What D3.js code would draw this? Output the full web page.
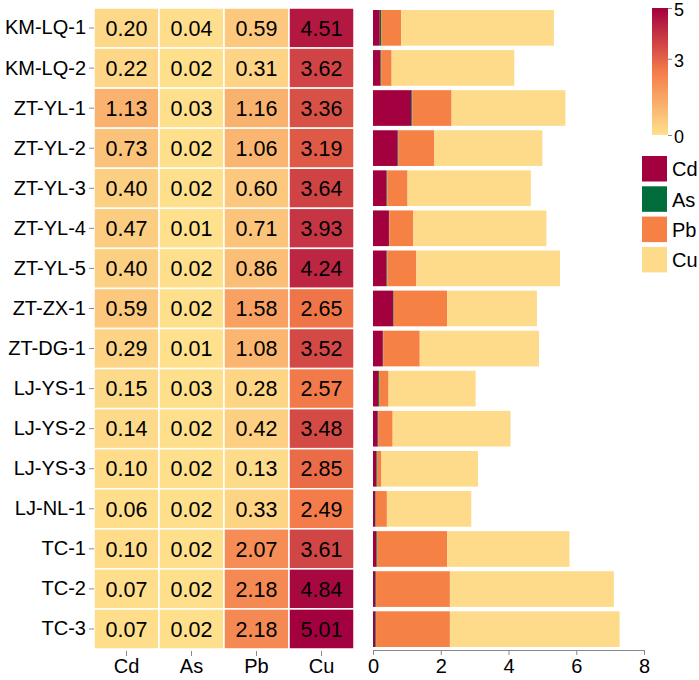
<!DOCTYPE html>
<html lang="en">
<head>
  <meta charset="UTF-8">
  <title>Heavy metal heatmap and stacked bars</title>
  <script src="https://d3js.org/d3.v7.min.js"></script>
  <style>
    body { margin: 0; background: #fff; }
    svg text { font-family: "Liberation Sans", Arial, sans-serif; }
  </style>
</head>
<body>
<svg id="chart" width="699" height="680"></svg>
<script>
const samples = ["KM-LQ-1", "KM-LQ-2", "ZT-YL-1", "ZT-YL-2", "ZT-YL-3", "ZT-YL-4", "ZT-YL-5", "ZT-ZX-1",
                 "ZT-DG-1", "LJ-YS-1", "LJ-YS-2", "LJ-YS-3", "LJ-NL-1", "TC-1", "TC-2", "TC-3"];
const metals = ["Cd", "As", "Pb", "Cu"];
const cdVals = [0.20, 0.22, 1.13, 0.73, 0.40, 0.47, 0.40, 0.59, 0.29, 0.15, 0.14, 0.10, 0.06, 0.10, 0.07, 0.07];
const asVals = [0.04, 0.02, 0.03, 0.02, 0.02, 0.01, 0.02, 0.02, 0.01, 0.03, 0.02, 0.02, 0.02, 0.02, 0.02, 0.02];
const pbVals = [0.59, 0.31, 1.16, 1.06, 0.60, 0.71, 0.86, 1.58, 1.08, 0.28, 0.42, 0.13, 0.33, 2.07, 2.18, 2.18];
const cuVals = [4.51, 3.62, 3.36, 3.19, 3.64, 3.93, 4.24, 2.65, 3.52, 2.57, 3.48, 2.85, 2.49, 3.61, 4.84, 5.01];
const barTicks = [0, 2, 4, 6, 8];
const colorTicks = [0, 3, 5];

const barColors = {Cd: "#a3003f", As: "#006d3a", Pb: "#f58145", Cu: "#fddb8b"};
const heat = d3.scaleLinear().domain([0, 2.5, 5]).range(["#fee08d", "#f47c4a", "#a3003f"]).clamp(true);

const rows = samples.map((s, i) => ({sample: s, Cd: cdVals[i], As: asVals[i], Pb: pbVals[i], Cu: cuVals[i]}));

const svg = d3.select("#chart");
const plotTop = 8, plotBottom = 649;
const labelSize = 20;

function styleTicks(axisG, size) {
  axisG.selectAll(".tick line").attr("stroke", "#888");
  axisG.selectAll(".tick text").attr("font-size", size || labelSize).attr("fill", "#000")
    .style("font-family", "'Liberation Sans', Arial, sans-serif");
}

// heatmap
const xh = d3.scaleBand().domain(metals).range([94, 354]);
const y = d3.scaleBand().domain(samples).range([plotTop, plotBottom]);

const cells = [];
rows.forEach(r => metals.forEach(m => cells.push({sample: r.sample, metal: m, v: r[m]})));

const hm = svg.append("g");
hm.selectAll("rect").data(cells).enter().append("rect")
  .attr("x", d => xh(d.metal))
  .attr("y", d => y(d.sample))
  .attr("width", xh.bandwidth())
  .attr("height", y.bandwidth())
  .attr("fill", d => heat(d.v))
  .attr("stroke", "#fff")
  .attr("stroke-width", 1.5);

hm.selectAll("text").data(cells).enter().append("text")
  .attr("x", d => xh(d.metal) + xh.bandwidth() / 2)
  .attr("y", d => y(d.sample) + y.bandwidth() / 2)
  .attr("dy", "0.36em")
  .attr("text-anchor", "middle")
  .attr("font-size", 21.5)
  .attr("fill", "#000")
  .text(d => d.v.toFixed(2));

// left axis
const yAxis = svg.append("g").attr("transform", "translate(94,0)")
  .call(d3.axisLeft(y).tickSize(5).tickPadding(3));
yAxis.select(".domain").remove();
styleTicks(yAxis);

// heatmap bottom axis
const xhAxis = svg.append("g").attr("transform", `translate(0,${plotBottom + 2})`)
  .call(d3.axisBottom(xh).tickSize(5).tickPadding(3));
xhAxis.select(".domain").remove();
styleTicks(xhAxis);

// stacked bars
const xb = d3.scaleLinear().domain([0, 8]).range([373, 644]);
const yb = d3.scaleBand().domain(samples).range([plotTop, plotBottom]).paddingInner(0.11).paddingOuter(0.05);
const stack = d3.stack().keys(metals)(rows);

svg.append("g").selectAll("g").data(stack).enter().append("g")
  .attr("fill", d => barColors[d.key])
  .selectAll("rect").data(d => d).enter().append("rect")
  .attr("x", d => xb(d[0]))
  .attr("y", d => yb(d.data.sample))
  .attr("width", d => xb(d[1]) - xb(d[0]))
  .attr("height", yb.bandwidth());

const xbAxis = svg.append("g").attr("transform", `translate(0,${plotBottom + 1})`)
  .call(d3.axisBottom(xb).tickValues(barTicks).tickSize(5).tickPadding(4).tickSizeOuter(0));
xbAxis.select(".domain").attr("stroke", "#888");
styleTicks(xbAxis);

// colour bar
const defs = svg.append("defs");
const grad = defs.append("linearGradient").attr("id", "heatgrad")
  .attr("x1", 0).attr("y1", 1).attr("x2", 0).attr("y2", 0);
d3.range(0, 5.01, 0.5).forEach(v => {
  grad.append("stop").attr("offset", v / 5).attr("stop-color", heat(v));
});
const yc = d3.scaleLinear().domain([0, 5]).range([135, 8]);
svg.append("rect")
  .attr("x", 652).attr("y", yc(5))
  .attr("width", 16).attr("height", yc(0) - yc(5))
  .attr("fill", "url(#heatgrad)");
const cAxis = svg.append("g").attr("transform", "translate(668,0)")
  .call(d3.axisRight(yc).tickValues(colorTicks).tickFormat(d3.format("d")).tickSize(4).tickPadding(2));
cAxis.select(".domain").remove();
styleTicks(cAxis, 18);
cAxis.selectAll(".tick text").attr("dy", "0.4em");

// category legend
const leg = svg.append("g").attr("transform", "translate(642,156)");
metals.forEach((m, i) => {
  leg.append("rect")
    .attr("x", 0).attr("y", i * 30.3)
    .attr("width", 25).attr("height", 25.5)
    .attr("fill", barColors[m]);
  leg.append("text")
    .attr("x", 30).attr("y", i * 30.3 + 13)
    .attr("dy", "0.36em")
    .attr("font-size", labelSize)
    .attr("fill", "#000")
    .text(m);
});
</script>
</body>
</html>
